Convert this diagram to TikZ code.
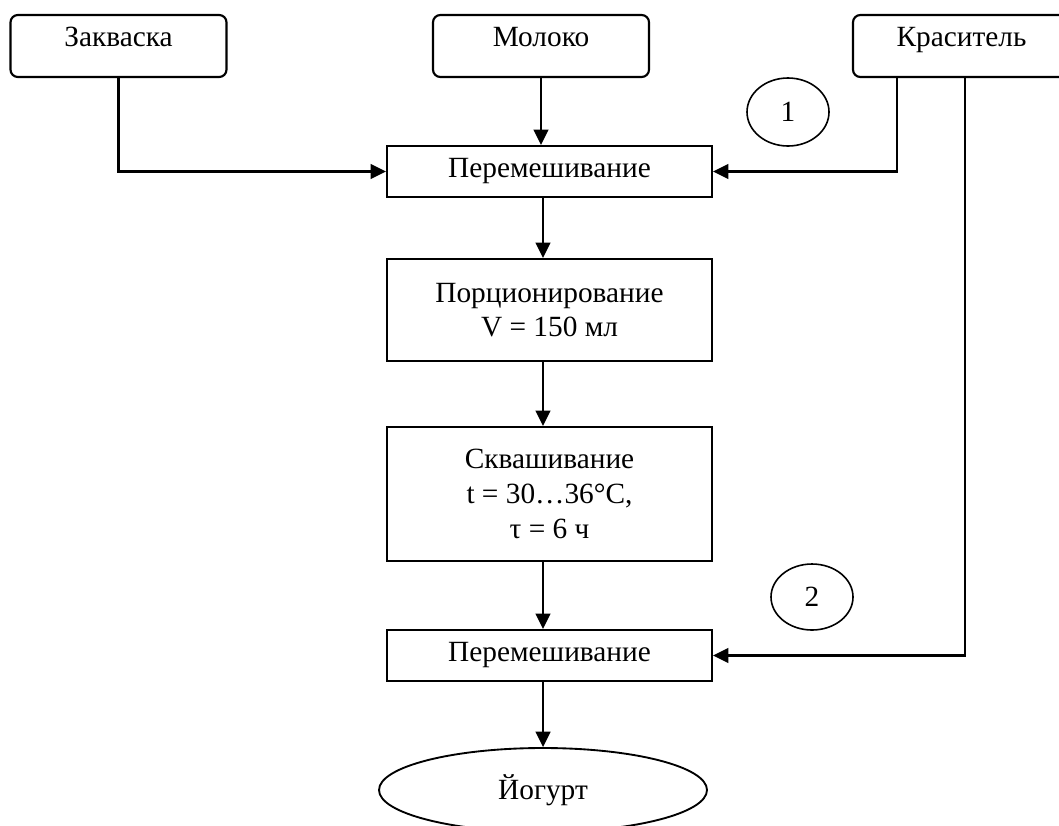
\documentclass[tikz,border=0pt]{standalone}
\usepackage{fontspec}
\setmainfont{Liberation Serif}
\usetikzlibrary{arrows.meta,shapes.geometric}
\begin{document}
\begin{tikzpicture}[x=0.75pt,y=-0.75pt,
  every node/.style={font=\fontsize{22pt}{26pt}\selectfont, inner sep=0pt, line width=1.6pt},
  srcbox/.style={draw, rounded corners=5.5pt, minimum width=216*0.75pt, minimum height=62*0.75pt,
     text height=23pt, text depth=23pt},
  procbox/.style={draw, rectangle, minimum width=325*0.75pt, align=center},
  endnode/.style={draw, ellipse, minimum width=328*0.75pt, minimum height=84*0.75pt, line width=1.4pt},
  numcirc/.style={draw, ellipse, minimum width=82*0.75pt, minimum height=68*0.75pt, line width=1.2pt},
  arr/.style={line width=1.6pt, -{Triangle[length=11.5pt,width=11pt]}}
]
\useasboundingbox (0,0) rectangle (1059,825);
\clip (0,0) rectangle (1059,825);

% source boxes
\node[srcbox] (zak) at (118.5,46) {Закваска};
\node[srcbox] (mol) at (541,46) {Молоко};
\node[srcbox, minimum width=217*0.75pt] (kras) at (961.5,46) {Краситель};

% process boxes
\node[procbox, minimum height=51*0.75pt] (per1) at (549.5,171.5) {Перемешивание};
\node[procbox, minimum height=102*0.75pt] (por) at (549.5,310) {Порционирование\\V = 150 мл};
\node[procbox, minimum height=134*0.75pt] (skv) at (549.5,494) {Сквашивание\\t = 30…36°C,\\τ = 6 ч};
\node[procbox, minimum height=51*0.75pt] (per2) at (549.5,655.5) {Перемешивание};
\node[endnode] (yog) at (543,790) {Йогурт};

% numbered marks
\node[numcirc] (c1) at (788,112) {1};
\node[numcirc, minimum height=66*0.75pt] (c2) at (812,597) {2};

% connectors
\draw[arr] (zak.south) |- (per1.west);
\draw[arr] (mol.south) -- (mol.south |- per1.north);
\draw[arr] ([xshift=45*0.75pt]kras.south west) |- (per1.east);
\draw[arr] ([xshift=113*0.75pt]kras.south west) |- (per2.east);
\draw[arr] (per1.south -| yog.center) -- (por.north -| yog.center);
\draw[arr] (por.south -| yog.center) -- (skv.north -| yog.center);
\draw[arr] (skv.south -| yog.center) -- (per2.north -| yog.center);
\draw[arr] (per2.south -| yog.center) -- (yog.north);
\end{tikzpicture}
\end{document}
